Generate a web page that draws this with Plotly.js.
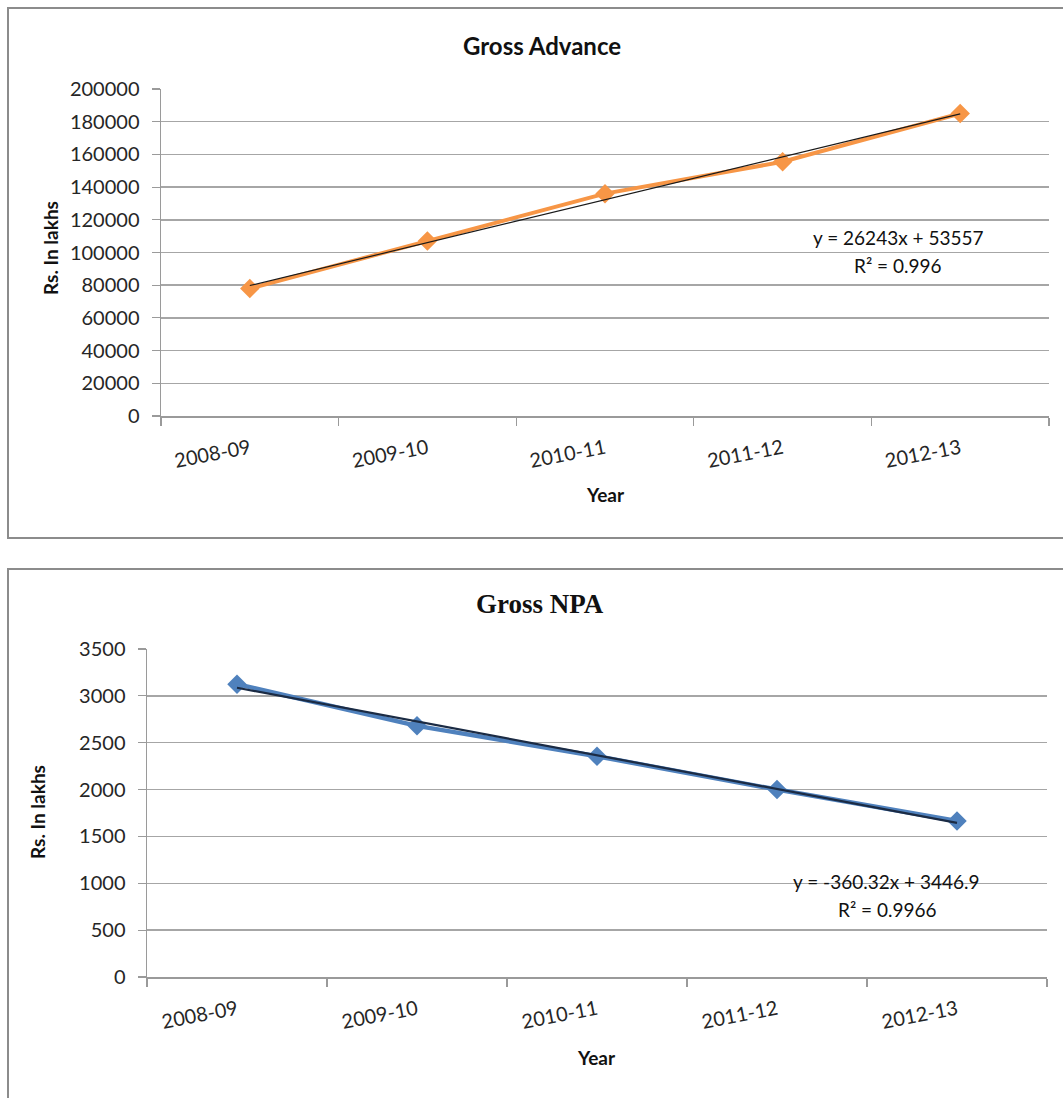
<!DOCTYPE html>
<html>
<head>
<meta charset="utf-8">
<script src="https://cdn.plot.ly/plotly-3.0.1.min.js"></script>
<style>
  html, body { margin: 0; padding: 0; background: #ffffff; }
  #chart { width: 1063px; height: 1098px; }
</style>
</head>
<body>
<div id="chart"></div>
<script>
// ---- Data ----
const categories = ['2008-09', '2009-10', '2010-11', '2011-12', '2012-13'];
const grossAdvance = [78000, 107000, 136000, 155500, 185000];
const grossNPA = [3125, 2680, 2355, 2000, 1665];
const advanceTrendCoef = [26243, 53557];      // slope, intercept
const npaTrendCoef = [-360.32, 3446.9];       // slope, intercept
const advanceYTicks = [0, 20000, 40000, 60000, 80000, 100000, 120000, 140000, 160000, 180000, 200000];
const npaYTicks = [0, 500, 1000, 1500, 2000, 2500, 3000, 3500];
const advanceEqText = ['y = 26243x + 53557', 'R² = 0.996'];
const npaEqText = ['y = -360.32x + 3446.9', 'R² = 0.9966'];

// trend values from the displayed equations (x = 1..n)
const advanceTrend = categories.map((c, i) => advanceTrendCoef[0] * (i + 1) + advanceTrendCoef[1]);
const npaTrend = categories.map((c, i) => npaTrendCoef[0] * (i + 1) + npaTrendCoef[1]);

// ---- Helpers (pixel -> paper) ----
const W = 1063, H = 1098;
const px = x => x / W;
const py = y => 1 - y / H;

const sansFont = 'Lato, "Open Sans", sans-serif';
const gridColor = '#a6a6a6';
const axisColor = '#9a9a9a';
const textColor = '#262626';

const traces = [
  {
    x: categories, y: grossAdvance, xaxis: 'x', yaxis: 'y',
    type: 'scatter', mode: 'lines+markers',
    line: { color: '#F79646', width: 4 },
    marker: { symbol: 'diamond', size: 15, color: '#F79646' },
    hoverinfo: 'x+y', showlegend: false
  },
  {
    x: categories, y: advanceTrend, xaxis: 'x', yaxis: 'y',
    type: 'scatter', mode: 'lines',
    line: { color: '#1a1a1a', width: 1.2 },
    hoverinfo: 'skip', showlegend: false
  },
  {
    x: categories, y: grossNPA, xaxis: 'x2', yaxis: 'y2',
    type: 'scatter', mode: 'lines+markers',
    line: { color: '#4F81BD', width: 4.5 },
    marker: { symbol: 'diamond', size: 15, color: '#4F81BD' },
    hoverinfo: 'x+y', showlegend: false
  },
  {
    x: categories, y: npaTrend, xaxis: 'x2', yaxis: 'y2',
    type: 'scatter', mode: 'lines',
    line: { color: '#1b2b44', width: 2.2 },
    hoverinfo: 'skip', showlegend: false
  }
];

function xAxisCfg(domain, anchor) {
  return {
    domain: domain, anchor: anchor,
    type: 'category', range: [-0.5, categories.length - 0.5],
    showgrid: false, zeroline: false,
    showline: true, linecolor: axisColor, linewidth: 1.5,
    ticks: 'outside', ticklen: 8, tickwidth: 1.2, tickcolor: axisColor,
    tickson: 'boundaries',
    tickangle: -11,
    ticklabelstandoff: 12,
    tickfont: { family: sansFont, size: 20, color: textColor },
    fixedrange: true
  };
}
function yAxisCfg(domain, anchor, range, tickvals) {
  return {
    domain: domain, anchor: anchor,
    range: range, tickmode: 'array', tickvals: tickvals,
    ticktext: tickvals.map(v => String(v)),
    showgrid: true, gridcolor: gridColor, gridwidth: 1.5,
    zeroline: false,
    showline: true, linecolor: axisColor, linewidth: 1.5,
    ticks: 'outside', ticklen: 8, tickwidth: 1.2, tickcolor: axisColor,
    ticklabelstandoff: 8,
    tickfont: { family: sansFont, size: 20, color: textColor },
    fixedrange: true
  };
}

function note(text, x, y, size, family, angle) {
  return {
    text: text, xref: 'paper', yref: 'paper', x: px(x), y: py(y),
    xanchor: 'center', yanchor: 'middle', showarrow: false,
    textangle: angle || 0,
    font: { family: family || sansFont, size: size, color: '#111' }
  };
}

const layout = {
  width: W, height: H,
  margin: { l: 0, r: 0, t: 0, b: 0, pad: 0 },
  paper_bgcolor: '#ffffff', plot_bgcolor: '#ffffff',
  showlegend: false,
  xaxis: xAxisCfg([px(161), px(1049)], 'y'),
  yaxis: yAxisCfg([py(416), py(89)], 'x', [0, 200000], advanceYTicks),
  xaxis2: xAxisCfg([px(147), px(1047)], 'y2'),
  yaxis2: yAxisCfg([py(977), py(649)], 'x2', [0, 3500], npaYTicks),
  shapes: [
    { type: 'rect', xref: 'paper', yref: 'paper', x0: px(8), x1: 1.05, y0: py(538), y1: py(8),
      line: { color: '#8c8c8c', width: 2 }, fillcolor: 'rgba(0,0,0,0)', layer: 'below' },
    { type: 'rect', xref: 'paper', yref: 'paper', x0: px(8), x1: 1.05, y0: -0.05, y1: py(569),
      line: { color: '#8c8c8c', width: 2 }, fillcolor: 'rgba(0,0,0,0)', layer: 'below' }
  ],
  annotations: [
    // Chart 1
    note('<b>Gross Advance</b>', 542, 45, 24),
    note('<b>Rs. In lakhs</b>', 51, 248, 19, sansFont, -90),
    note('<b>Year</b>', 605, 494, 19),
    note(advanceEqText[0], 898, 238, 19),
    note(advanceEqText[1], 898, 266, 19),
    // Chart 2
    note('<b>Gross NPA</b>', 540, 604, 27, '"Liberation Serif", "Times New Roman", serif'),
    note('<b>Rs. In lakhs</b>', 37, 812, 19, sansFont, -90),
    note('<b>Year</b>', 596, 1057, 19),
    note(npaEqText[0], 886, 881, 19),
    note(npaEqText[1], 887, 909, 19)
  ]
};

Plotly.newPlot('chart', traces, layout, { displayModeBar: false, staticPlot: true });
</script>
</body>
</html>
